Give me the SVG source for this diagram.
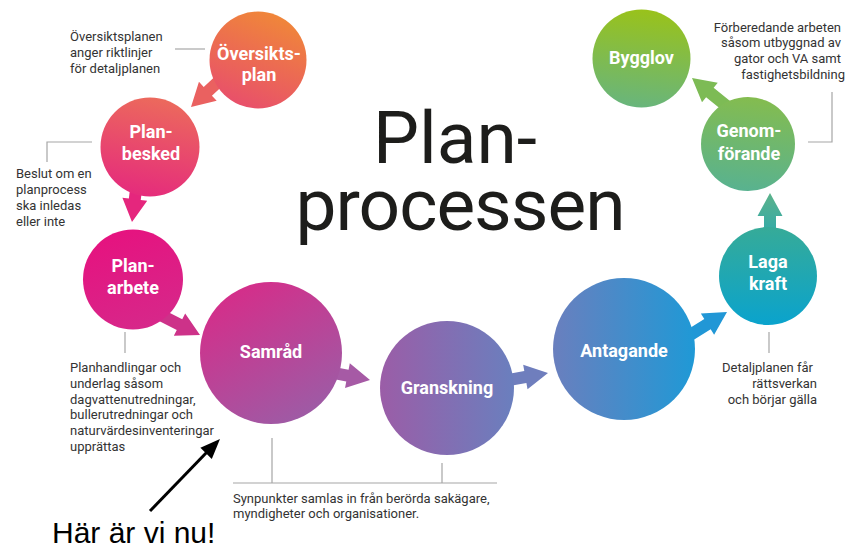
<svg xmlns="http://www.w3.org/2000/svg" width="846" height="550" viewBox="0 0 846 550">
<defs>
<linearGradient id="gOver" x1="0.7" y1="0" x2="0.3" y2="1"><stop offset="0" stop-color="#f08838"/><stop offset="1" stop-color="#e84e6c"/></linearGradient>
<linearGradient id="gBesk" x1="0.6" y1="0" x2="0.4" y2="1"><stop offset="0" stop-color="#ec6a5c"/><stop offset="1" stop-color="#e52b7c"/></linearGradient>
<linearGradient id="gArb" x1="0.3" y1="0" x2="0.7" y2="1"><stop offset="0" stop-color="#e6127f"/><stop offset="1" stop-color="#d6288a"/></linearGradient>
<linearGradient id="gSam" x1="0.2" y1="0" x2="0.8" y2="1"><stop offset="0" stop-color="#d82b88"/><stop offset="1" stop-color="#9a5ea7"/></linearGradient>
<linearGradient id="gGran" x1="0" y1="0.5" x2="1" y2="0.5"><stop offset="0" stop-color="#9b5da7"/><stop offset="1" stop-color="#6a7fbe"/></linearGradient>
<linearGradient id="gAnt" x1="0" y1="0.5" x2="1" y2="0.5"><stop offset="0" stop-color="#6a7fbe"/><stop offset="1" stop-color="#1f99d6"/></linearGradient>
<linearGradient id="gLaga" x1="0.5" y1="0" x2="0.5" y2="1"><stop offset="0" stop-color="#36ab98"/><stop offset="1" stop-color="#0aa3cd"/></linearGradient>
<linearGradient id="gGen" x1="0.5" y1="0" x2="0.4" y2="1"><stop offset="0" stop-color="#84bc4f"/><stop offset="1" stop-color="#58b290"/></linearGradient>
<linearGradient id="gByg" x1="0.5" y1="0" x2="0.4" y2="1"><stop offset="0" stop-color="#99c21b"/><stop offset="1" stop-color="#68b57d"/></linearGradient>
<linearGradient id="gA7" x1="0" y1="0.5" x2="1" y2="0.5"><stop offset="0" stop-color="#22a7b4"/><stop offset="1" stop-color="#5cb28a"/></linearGradient>
</defs>
<style>
.lbl{font-family:Roboto,"Liberation Sans",sans-serif;font-weight:700;font-size:18px;fill:#ffffff;text-anchor:middle}
.note{font-family:Roboto,"Liberation Sans",sans-serif;font-size:13px;fill:#333333}
.end{text-anchor:end}
.lead{fill:none;stroke:#a6a6a6;stroke-width:1.2}
.title{font-family:Roboto,"Liberation Sans",sans-serif;font-size:73px;fill:#1d1d1b;text-anchor:middle}
</style>
<rect width="846" height="550" fill="#ffffff"/>

<g id="connectors">
<polygon transform="translate(191,107) rotate(137)" points="-60,-6 -23,-6 -23,-13 0,0 -23,13 -23,6 -60,6" fill="#ea6160"/>
<polygon transform="translate(132,222) rotate(97)" points="-50,-6 -23,-6 -23,-12.5 0,0 -23,12.5 -23,6 -50,6" fill="#e5267d"/>
<polygon transform="translate(200,335) rotate(27)" points="-55,-6 -23,-6 -23,-12.5 0,0 -23,12.5 -23,6 -55,6" fill="#cd3289"/>
<polygon transform="translate(370,380) rotate(11)" points="-60,-6 -23,-6 -23,-12.5 0,0 -23,12.5 -23,6 -60,6" fill="#a65aa5"/>
<polygon transform="translate(548,373) rotate(-10)" points="-60,-6 -23,-6 -23,-12.5 0,0 -23,12.5 -23,6 -60,6" fill="#6f7ebd"/>
<polygon transform="translate(727,312) rotate(-32)" points="-65,-6 -23,-6 -23,-12.5 0,0 -23,12.5 -23,6 -65,6" fill="#2197d6"/>
<polygon transform="translate(770,193) rotate(-90)" points="-55,-6 -23,-6 -23,-12.5 0,0 -23,12.5 -23,6 -55,6" fill="url(#gA7)"/>
<polygon transform="translate(692,78) rotate(-141)" points="-60,-6 -23,-6 -23,-12.5 0,0 -23,12.5 -23,6 -60,6" fill="#7dbb55"/>
</g>

<g id="node-oversiktsplan">
<circle cx="258" cy="60" r="48.5" fill="url(#gOver)"/>
<text class="lbl" x="259" y="60">Översikts-</text>
<text class="lbl" x="259" y="81">plan</text>
</g>
<g id="node-planbesked">
<circle cx="150" cy="147" r="49.5" fill="url(#gBesk)"/>
<text class="lbl" x="151" y="138">Plan-</text>
<text class="lbl" x="151" y="160">besked</text>
</g>
<g id="node-planarbete">
<circle cx="133" cy="279.5" r="50" fill="url(#gArb)"/>
<text class="lbl" x="133" y="272">Plan-</text>
<text class="lbl" x="133" y="294">arbete</text>
</g>
<g id="node-samrad">
<circle cx="271" cy="353" r="71" fill="url(#gSam)"/>
<text class="lbl" x="271" y="357.5">Samråd</text>
</g>
<g id="node-granskning">
<circle cx="447" cy="388" r="67" fill="url(#gGran)"/>
<text class="lbl" x="447" y="394">Granskning</text>
</g>
<g id="node-antagande">
<circle cx="624" cy="349" r="71" fill="url(#gAnt)"/>
<text class="lbl" x="624" y="357">Antagande</text>
</g>
<g id="node-lagakraft">
<circle cx="768" cy="276" r="49" fill="url(#gLaga)"/>
<text class="lbl" x="768" y="268">Laga</text>
<text class="lbl" x="768" y="290">kraft</text>
</g>
<g id="node-genomforande">
<circle cx="748" cy="144" r="47" fill="url(#gGen)"/>
<text class="lbl" x="749" y="137">Genom-</text>
<text class="lbl" x="749" y="160">förande</text>
</g>
<g id="node-bygglov">
<circle cx="641.5" cy="58.5" r="49" fill="url(#gByg)"/>
<text class="lbl" x="641.5" y="64">Bygglov</text>
</g>

<g id="title">
<text class="title" x="455" y="163">Plan-</text>
<text class="title" x="460" y="230" letter-spacing="-1">processen</text>
</g>

<g id="annotations">
<path class="lead" d="M175 49H205"/>
<path class="lead" d="M92 142H47V162"/>
<path class="lead" d="M125 332V353"/>
<path class="lead" d="M272 438V483M233 483H497M442 463V483"/>
<path class="lead" d="M769 332V353"/>
<path class="lead" d="M808 142H832V92"/>
<text class="note" x="70" y="41">Översiktsplanen</text>
<text class="note" x="70" y="57">anger riktlinjer</text>
<text class="note" x="70" y="73">för detaljplanen</text>
<text class="note" x="16" y="178">Beslut om en</text>
<text class="note" x="16" y="194">planprocess</text>
<text class="note" x="16" y="210">ska inledas</text>
<text class="note" x="16" y="226">eller inte</text>
<text class="note" x="70" y="372">Planhandlingar och</text>
<text class="note" x="70" y="388">underlag såsom</text>
<text class="note" x="70" y="403.5">dagvattenutredningar,</text>
<text class="note" x="70" y="419">bullerutredningar och</text>
<text class="note" x="70" y="435">naturvärdesinventeringar</text>
<text class="note" x="70" y="451">upprättas</text>
<text class="note" x="233" y="503">Synpunkter samlas in från berörda sakägare,</text>
<text class="note" x="233" y="518">myndigheter och organisationer.</text>
<text class="note end" x="813" y="372">Detaljplanen får</text>
<text class="note end" x="817" y="388">rättsverkan</text>
<text class="note end" x="817" y="404">och börjar gälla</text>
<text class="note end" x="841" y="32">Förberedande arbeten</text>
<text class="note end" x="841" y="47">såsom utbyggnad av</text>
<text class="note end" x="841" y="63">gator och VA samt</text>
<text class="note end" x="845" y="79">fastighetsbildning</text>
</g>

<g id="pointer">
<line x1="150" y1="511" x2="208" y2="451" stroke="#000000" stroke-width="3"/>
<polygon points="220,439 211.8,458.9 200.4,447.7" fill="#000000"/>
<text x="52" y="543" font-family="'Liberation Sans',Arial,sans-serif" font-size="30" fill="#000000">Här är vi nu!</text>
</g>
</svg>
